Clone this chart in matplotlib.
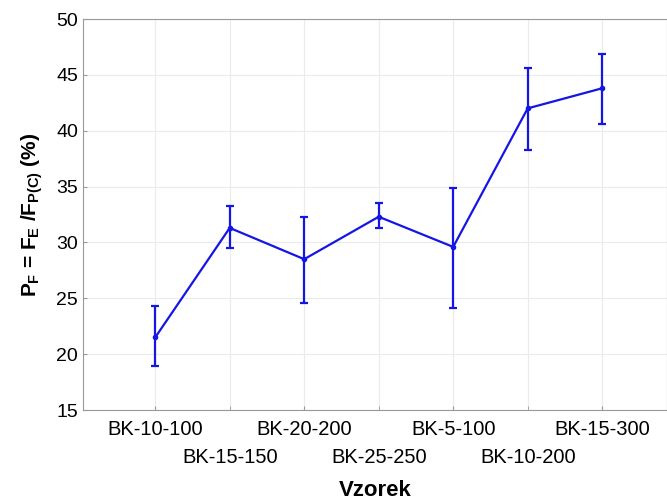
import matplotlib.pyplot as plt
import numpy as np

# Data
samples = ["BK-10-100", "BK-15-150", "BK-20-200", "BK-25-250",
           "BK-5-100", "BK-10-200", "BK-15-300"]
pf_mean = [21.5, 31.3, 28.5, 32.3, 29.6, 42.0, 43.8]
pf_upper = [24.3, 33.3, 32.3, 33.5, 34.9, 45.6, 46.9]
pf_lower = [18.9, 29.5, 24.6, 31.3, 24.1, 38.3, 40.6]

plt.rcParams['font.family'] = ['Liberation Sans', 'DejaVu Sans']
plt.rcParams['mathtext.fontset'] = 'custom'
plt.rcParams['mathtext.rm'] = 'Liberation Sans:bold'
plt.rcParams['mathtext.it'] = 'Liberation Sans:bold'
plt.rcParams['mathtext.bf'] = 'Liberation Sans:bold'

x = np.arange(len(samples))
mean = np.array(pf_mean)
yerr = [mean - np.array(pf_lower), np.array(pf_upper) - mean]

fig = plt.figure(figsize=(6.67, 5.04), dpi=100)
ax = fig.add_axes([0.1244, 0.1865, 0.8756, 0.7758])

color = '#1515e6'
ax.errorbar(x, mean, yerr=yerr, color=color, linewidth=1.6,
            elinewidth=1.6, capsize=3, capthick=1.6,
            marker='o', markersize=3)

ax.set_xlim(-0.97, 6.87)
ax.set_ylim(15, 50)
ax.set_yticks(np.arange(15, 51, 5))

# alternate tick labels on two rows: even as major, odd as minor ticks
ax.set_xticks(x[::2])
ax.set_xticklabels(samples[::2], fontsize=14.5)
ax.set_xticks(x[1::2], minor=True)
ax.set_xticklabels(samples[1::2], minor=True, fontsize=14.5)
ax.tick_params(axis='x', which='major', pad=7)
ax.tick_params(axis='x', which='minor', pad=27)
ax.tick_params(axis='y', labelsize=14)
ax.tick_params(which='both', direction='in', length=3, color='#999999')

ax.grid(True, which='both', color='#ebebeb', linewidth=0.8)
for sp in ax.spines.values():
    sp.set_color('#999999')

ax.set_xlabel("Vzorek", fontsize=16, fontweight='bold', labelpad=10)
ax.set_ylabel(r"$P_F$ = $F_E$ /$F_{P(C)}$ (%)", fontsize=15,
              fontweight='bold', labelpad=8)

fig.savefig("out.png", dpi=100)
